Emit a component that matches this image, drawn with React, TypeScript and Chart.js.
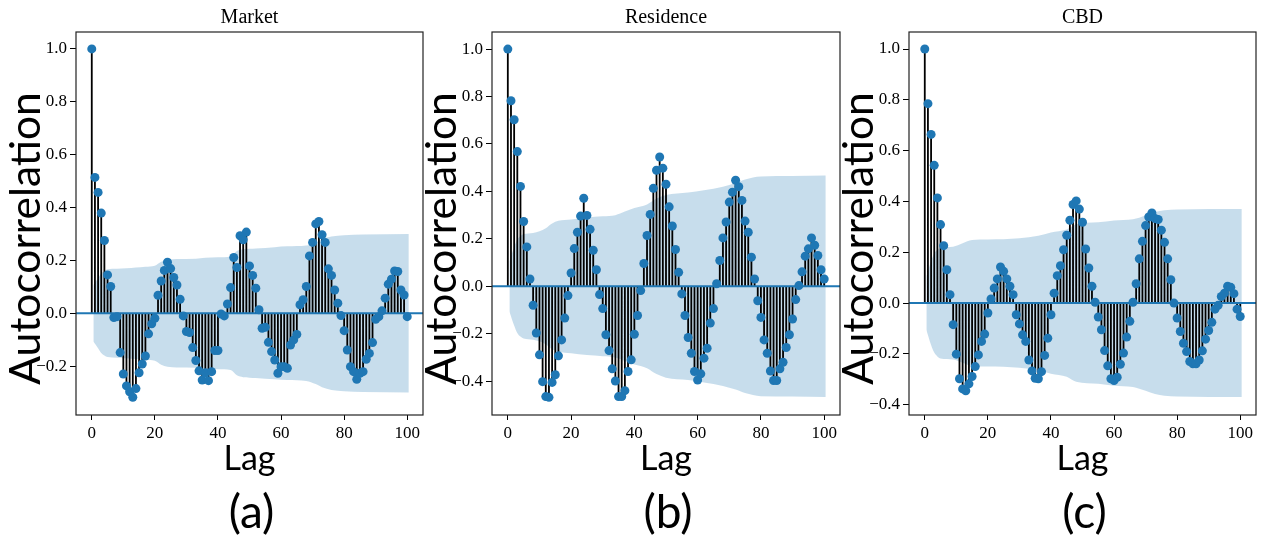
import React, { useEffect, useRef } from "react";
import { Chart, registerables } from "chart.js";

Chart.register(...registerables);

// ---------- data ----------
const lags: number[] = Array.from({ length: 101 }, (_, i) => i);
const xTickValues = [0, 20, 40, 60, 80, 100];

const titles = ["Market", "Residence", "CBD"];
const panelTags = ["(a)", "(b)", "(c)"];
const yAxisLabel = "Autocorrelation";
const xAxisLabel = "Lag";

const marketAcf = [
  1.0, 0.514, 0.457, 0.379, 0.275, 0.145, 0.101, -0.016, -0.013, -0.149,
  -0.23, -0.275, -0.297, -0.318, -0.285, -0.225, -0.192, -0.162, -0.078, -0.04,
  -0.019, 0.068, 0.122, 0.162, 0.193, 0.169, 0.135, 0.107, 0.053, -0.01,
  -0.069, -0.073, -0.13, -0.179, -0.218, -0.253, -0.225, -0.255, -0.221, -0.141,
  -0.141, -0.003, -0.01, 0.035, 0.097, 0.211, 0.173, 0.293, 0.278, 0.307,
  0.179, 0.143, 0.095, 0.013, -0.057, -0.053, -0.11, -0.145, -0.177, -0.227,
  -0.202, -0.202, -0.208, -0.12, -0.101, -0.08, 0.032, 0.051, 0.101, 0.217,
  0.268, 0.338, 0.347, 0.297, 0.268, 0.168, 0.143, 0.088, 0.038, -0.009,
  -0.066, -0.139, -0.202, -0.221, -0.25, -0.227, -0.221, -0.174, -0.152, -0.111,
  -0.023, -0.013, 0.009, 0.057, 0.11, 0.129, 0.16, 0.158, 0.088, 0.069,
  -0.013,
];
const residenceAcf = [
  1.0, 0.782, 0.702, 0.568, 0.421, 0.273, 0.166, 0.031, -0.08, -0.197,
  -0.289, -0.402, -0.465, -0.468, -0.405, -0.373, -0.293, -0.226, -0.134, -0.039,
  0.056, 0.159, 0.228, 0.296, 0.371, 0.299, 0.24, 0.152, 0.07, -0.035,
  -0.094, -0.204, -0.271, -0.348, -0.399, -0.465, -0.465, -0.44, -0.359, -0.31,
  -0.202, -0.123, -0.018, 0.096, 0.214, 0.303, 0.413, 0.489, 0.545, 0.498,
  0.43, 0.335, 0.254, 0.155, 0.059, -0.032, -0.123, -0.216, -0.282, -0.359,
  -0.395, -0.369, -0.303, -0.261, -0.155, -0.094, 0.011, 0.109, 0.204, 0.271,
  0.355, 0.397, 0.447, 0.42, 0.362, 0.275, 0.228, 0.123, 0.031, -0.061,
  -0.131, -0.226, -0.282, -0.357, -0.397, -0.397, -0.348, -0.32, -0.258, -0.204,
  -0.138, -0.056, 0.003, 0.061, 0.127, 0.158, 0.204, 0.173, 0.13, 0.07,
  0.031,
];
const cbdAcf = [
  1.0, 0.785, 0.664, 0.542, 0.414, 0.309, 0.226, 0.131, 0.033, -0.085,
  -0.201, -0.298, -0.338, -0.345, -0.318, -0.289, -0.25, -0.204, -0.151, -0.122,
  -0.039, 0.016, 0.059, 0.095, 0.142, 0.125, 0.095, 0.066, 0.033, -0.046,
  -0.082, -0.125, -0.151, -0.224, -0.267, -0.296, -0.298, -0.27, -0.206, -0.138,
  -0.046, 0.039, 0.108, 0.147, 0.21, 0.267, 0.326, 0.388, 0.402, 0.37,
  0.318, 0.213, 0.138, 0.066, 0.003, -0.055, -0.105, -0.187, -0.247, -0.298,
  -0.305, -0.292, -0.241, -0.197, -0.134, -0.072, 0.003, 0.076, 0.174, 0.243,
  0.305, 0.339, 0.355, 0.333, 0.329, 0.287, 0.239, 0.174, 0.092, 0.0,
  -0.059, -0.112, -0.158, -0.191, -0.23, -0.239, -0.239, -0.224, -0.188, -0.142,
  -0.108, -0.076, -0.024, -0.009, 0.026, 0.039, 0.066, 0.062, 0.037, -0.024,
  -0.053,
];

// confidence band half-widths, read at sampled lags
const marketBandLags = [0.5, 2, 3, 4, 5, 8, 11, 14, 17, 20, 22, 24, 27, 33, 36, 40, 44, 46, 48, 52, 58, 62, 68, 71, 73, 76, 80, 86, 100.5];
const marketBand = [0.107, 0.132, 0.15, 0.16, 0.166, 0.168, 0.17, 0.173, 0.176, 0.18, 0.195, 0.202, 0.205, 0.206, 0.21, 0.212, 0.215, 0.235, 0.242, 0.245, 0.25, 0.253, 0.256, 0.268, 0.28, 0.29, 0.295, 0.298, 0.3];
const residenceBandLags = [0.5, 2, 3, 4, 5, 8, 10, 12, 14, 16, 20, 25, 30, 34, 37, 40, 44, 47, 50, 57, 62, 68, 72, 75, 80, 90, 100.5];
const residenceBand = [0.106, 0.165, 0.197, 0.212, 0.22, 0.225, 0.232, 0.245, 0.265, 0.276, 0.282, 0.29, 0.295, 0.3, 0.315, 0.33, 0.345, 0.37, 0.385, 0.395, 0.405, 0.42, 0.435, 0.45, 0.463, 0.465, 0.467];
const cbdBandLags = [0.5, 2, 3, 4, 5, 9, 12, 15, 20, 30, 36, 40, 45, 48, 55, 60, 66, 70, 73, 76, 80, 100.5];
const cbdBand = [0.105, 0.165, 0.195, 0.21, 0.218, 0.222, 0.235, 0.248, 0.25, 0.255, 0.265, 0.278, 0.29, 0.31, 0.318, 0.325, 0.33, 0.345, 0.358, 0.365, 0.368, 0.37];

const marketYTicks = [-0.2, 0, 0.2, 0.4, 0.6, 0.8, 1.0];
const residenceYTicks = [-0.4, -0.2, 0, 0.2, 0.4, 0.6, 0.8, 1.0];
const cbdYTicks = [-0.4, -0.2, 0, 0.2, 0.4, 0.6, 0.8, 1.0];

// ---------- layout / style ----------
const BLUE = "#1f77b4";
const BAND = "rgba(31,119,180,0.25)";
const AX_TOP = 32;
const AX_BOTTOM = 415;
const Y_AXIS_W = 76;
const CANVAS_H = 450;
const RIGHT_PAD = 12;

const panels = [
  { values: marketAcf, bandLags: marketBandLags, band: marketBand, yTicks: marketYTicks, yMin: -0.385, yMax: 1.064, axLeft: 76, axRight: 423 },
  { values: residenceAcf, bandLags: residenceBandLags, band: residenceBand, yTicks: residenceYTicks, yMin: -0.5425, yMax: 1.072, axLeft: 492, axRight: 840 },
  { values: cbdAcf, bandLags: cbdBandLags, band: cbdBand, yTicks: cbdYTicks, yMin: -0.4406, yMax: 1.067, axLeft: 909, axRight: 1256 },
];

const fmt = (v: number) => {
  const s = Math.abs(v).toFixed(1);
  return v < -1e-9 ? "\u2212" + s : s;
};

const framePlugin = {
  id: "frame",
  afterDatasetsDraw(chart: any) {
    const { left, top, right, bottom } = chart.chartArea;
    const ctx = chart.ctx;
    ctx.save();
    ctx.strokeStyle = "#222";
    ctx.lineWidth = 1.2;
    ctx.strokeRect(left, top, right - left, bottom - top);
    ctx.restore();
  },
};

function Panel({ p }: { p: (typeof panels)[number] }) {
  const ref = useRef<HTMLCanvasElement>(null);
  const width = p.axRight - p.axLeft + Y_AXIS_W + RIGHT_PAD;
  useEffect(() => {
    const stems: any[] = [];
    p.values.forEach((v, i) => {
      stems.push({ x: lags[i], y: 0 }, { x: lags[i], y: v }, { x: lags[i], y: null });
    });
    const tickFont = { family: '"Liberation Serif", "Times New Roman", serif', size: 17 };
    const chart = new Chart(ref.current!, {
      type: "scatter",
      data: {
        datasets: [
          {
            type: "scatter",
            data: p.values.map((v, i) => ({ x: lags[i], y: v })),
            pointRadius: 4.5,
            pointBackgroundColor: BLUE,
            pointBorderWidth: 0,
            showLine: false,
            order: 0,
          } as any,
          {
            type: "line",
            data: [{ x: -5, y: 0 }, { x: 105, y: 0 }],
            borderColor: BLUE,
            borderWidth: 2,
            pointRadius: 0,
            fill: false,
            order: 1,
          },
          {
            type: "line",
            data: stems,
            borderColor: "#000",
            borderWidth: 1.8,
            pointRadius: 0,
            spanGaps: false,
            fill: false,
            order: 2,
          },
          {
            type: "line",
            data: p.bandLags.map((x, i) => ({ x, y: p.band[i] })),
            borderWidth: 0,
            borderColor: "rgba(0,0,0,0)",
            backgroundColor: BAND,
            pointRadius: 0,
            cubicInterpolationMode: "monotone",
            fill: "+1",
            order: 3,
          },
          {
            type: "line",
            data: p.bandLags.map((x, i) => ({ x, y: -p.band[i] })),
            borderWidth: 0,
            borderColor: "rgba(0,0,0,0)",
            pointRadius: 0,
            cubicInterpolationMode: "monotone",
            fill: false,
            order: 4,
          },
        ],
      },
      options: {
        animation: false,
        responsive: false,
        events: [],
        layout: { padding: { left: 0, right: RIGHT_PAD, top: AX_TOP, bottom: 0 } },
        plugins: { legend: { display: false }, tooltip: { enabled: false }, title: { display: false } },
        scales: {
          x: {
            type: "linear",
            min: -5,
            max: 105,
            afterFit: (s: any) => { s.height = CANVAS_H - AX_BOTTOM; },
            afterBuildTicks: (s: any) => { s.ticks = xTickValues.map((value) => ({ value })); },
            ticks: { font: tickFont, color: "#000", padding: 3, maxRotation: 0, autoSkip: false, callback: (v: any) => String(v) },
            grid: { display: true, drawOnChartArea: false, drawTicks: true, tickLength: 5, color: "#000", lineWidth: 1 },
            border: { display: false },
          },
          y: {
            type: "linear",
            min: p.yMin,
            max: p.yMax,
            afterFit: (s: any) => { s.width = Y_AXIS_W; },
            afterBuildTicks: (s: any) => { s.ticks = p.yTicks.map((value) => ({ value })); },
            ticks: { font: tickFont, color: "#000", padding: 3, autoSkip: false, callback: (v: any) => fmt(Number(v)) },
            grid: { display: true, drawOnChartArea: false, drawTicks: true, tickLength: 6, color: "#000", lineWidth: 1 },
            border: { display: false },
          },
        },
      },
      plugins: [framePlugin],
    } as any);
    return () => chart.destroy();
  }, []);
  return (
    <canvas
      ref={ref}
      width={width}
      height={CANVAS_H}
      style={{ position: "absolute", left: p.axLeft - Y_AXIS_W, top: 0, width, height: CANVAS_H }}
    />
  );
}

export default function App() {
  return (
    <div style={{ position: "absolute", left: 0, top: 0, width: 1267, height: 558, background: "#fff", overflow: "hidden" }}>
      {panels.map((p, i) => (
        <Panel key={i} p={p} />
      ))}
      <svg width={1267} height={558} style={{ position: "absolute", left: 0, top: 0, pointerEvents: "none" }}>
        {panels.map((p, i) => {
          const cx = (p.axLeft + p.axRight) / 2;
          return (
            <g key={i}>
              <text x={cx} y={23} textAnchor="middle" fontFamily='"Liberation Serif", serif' fontSize={20} fill="#000">
                {titles[i]}
              </text>
              <text
                transform={`translate(${p.axLeft - 36},238.5) rotate(-90)`}
                textAnchor="middle"
                fontFamily="Lato, sans-serif"
                fontSize={42.5}
                fill="#000"
              >
                {yAxisLabel}
              </text>
              <text x={cx} y={470} textAnchor="middle" fontFamily="Lato, sans-serif" fontSize={34} fill="#000">
                {xAxisLabel}
              </text>
              <text x={cx + 2} y={528} textAnchor="middle" fontFamily="Lato, sans-serif" fontSize={46} fill="#000">
                {panelTags[i]}
              </text>
            </g>
          );
        })}
      </svg>
    </div>
  );
}
